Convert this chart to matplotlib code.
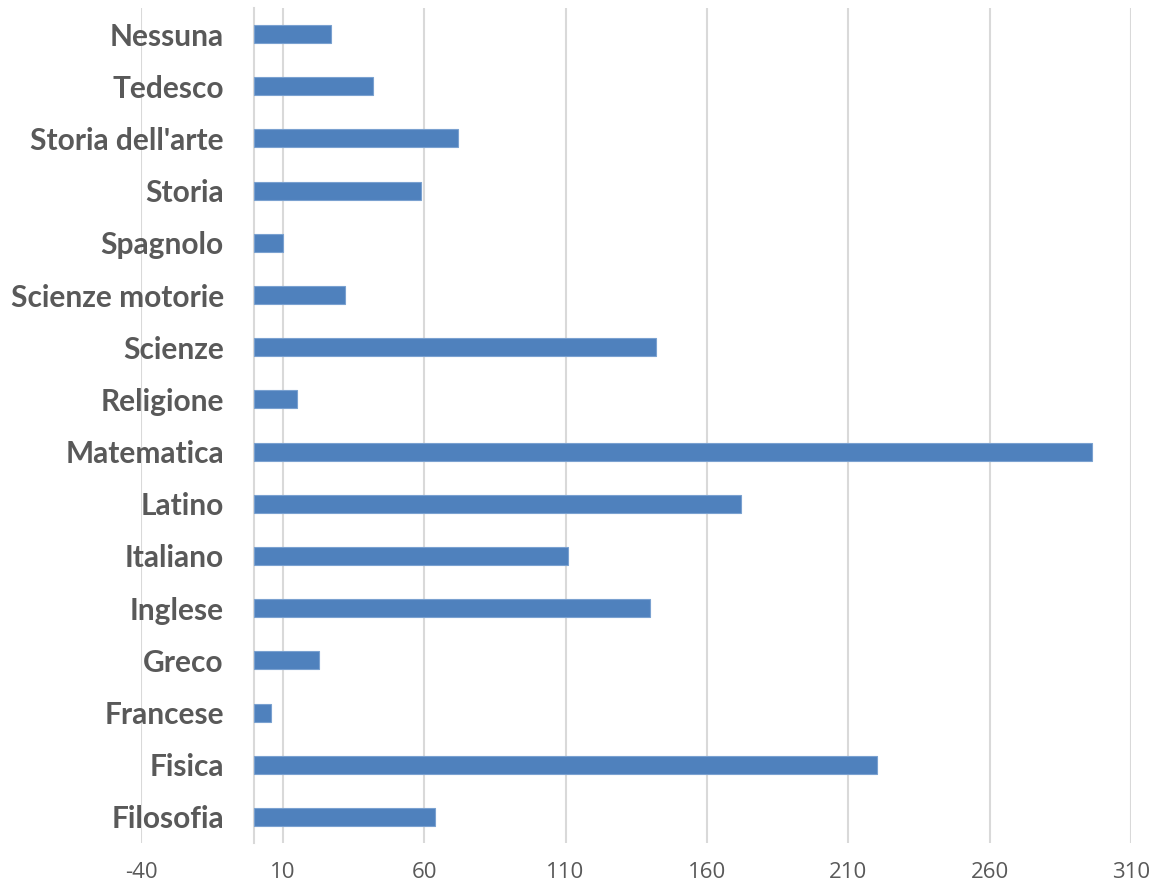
import matplotlib.pyplot as plt
from matplotlib.font_manager import FontProperties
import numpy as np

# Dati (dal basso verso l'alto, come nel grafico)
materie = ["Filosofia", "Fisica", "Francese", "Greco", "Inglese", "Italiano",
           "Latino", "Matematica", "Religione", "Scienze", "Scienze motorie",
           "Spagnolo", "Storia", "Storia dell'arte", "Tedesco", "Nessuna"]
valori = [64, 220, 6, 23, 140, 111, 172, 296, 15, 142, 32, 10, 59, 72, 42, 27]
ticks_x = [-40, 10, 60, 110, 160, 210, 260, 310]

plt.rcParams['font.family'] = ['Open Sans', 'DejaVu Sans']

fig = plt.figure(figsize=(11.54, 8.88), dpi=100)
ax = fig.add_axes([0.1224, 0.0507, 0.9803 - 0.1224, 0.991 - 0.0507])

y = np.arange(len(materie))
ax.barh(y, valori, height=0.345, color="#4f81bd", edgecolor="#7aa1d0",
        linewidth=0.8, zorder=3)

ax.set_xlim(-40, 310)
ax.set_ylim(-0.5, len(materie) - 0.5)
ax.set_xticks(ticks_x)
ax.set_xticklabels([str(t) for t in ticks_x])
ax.set_yticks(y)
ax.set_yticklabels(materie)

ax.grid(axis="x", color="#d9d9d9", linewidth=1.5, zorder=0)
for s in ["top", "right", "bottom"]:
    ax.spines[s].set_visible(False)
ax.spines["left"].set_position(("data", 0))
ax.spines["left"].set_color("#d9d9d9")
ax.spines["left"].set_linewidth(1.5)
ax.spines["left"].set_zorder(1)

ax.tick_params(axis="x", length=0, pad=14, labelsize=16, labelcolor="#595959")
ax.tick_params(axis="y", length=0, pad=22, labelcolor="#595959")

# etichette in grassetto
fp = FontProperties(family=["Lato", "DejaVu Sans"], weight="bold", size=21.5)
for lab in ax.get_yticklabels():
    lab.set_fontproperties(fp)

fig.savefig("out.png", dpi=100)
